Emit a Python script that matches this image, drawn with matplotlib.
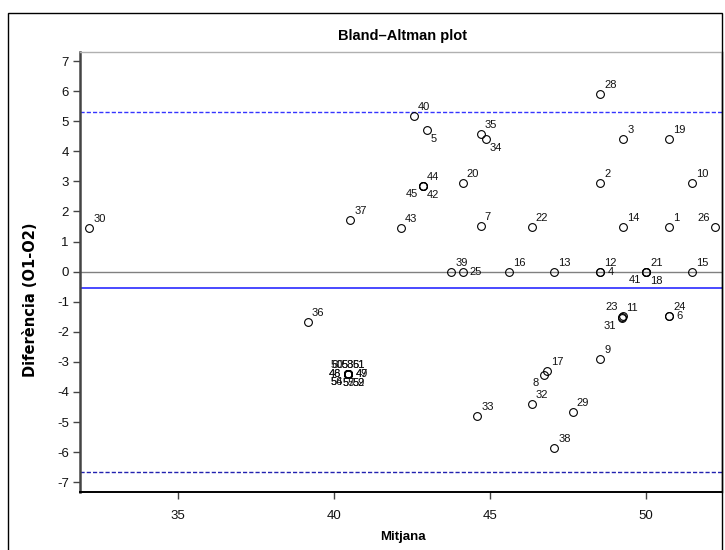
import matplotlib
matplotlib.use("Agg")
import matplotlib.pyplot as plt
from matplotlib.patches import Rectangle

# ---------------- data ----------------
point_ids = [30, 40, 5, 35, 34, 44, 45, 42, 20, 37, 43, 7, 22,
             28, 3, 19, 2, 10, 14, 1, 26,
             39, 25, 16, 13, 12, 4, 21, 41, 18, 15,
             36, 23, 11, 31, 24, 6, 9, 17, 8, 32, 33, 29, 38,
             46, 47, 48, 49, 50, 51, 52, 53, 54, 55, 56, 57, 58, 59, 60, 61]
mean_vals = [32.16, 42.57, 42.98, 44.70, 44.86, 42.86, 42.86, 42.86, 44.13, 40.52, 42.15, 44.70, 46.34,
             48.54, 49.27, 50.75, 48.54, 51.48, 49.27, 50.75, 52.22,
             43.76, 44.13, 45.60, 47.07, 48.54, 48.54, 50.01, 50.01, 50.01, 51.48,
             39.17, 49.27, 49.25, 49.22, 50.75, 50.75, 48.54, 46.83, 46.73, 46.34, 44.59, 47.66, 47.07,
             40.46, 40.46, 40.46, 40.46, 40.46, 40.46, 40.46, 40.46, 40.46, 40.46, 40.46, 40.46, 40.46, 40.46, 40.46, 40.46]
diff_vals = [1.44, 5.18, 4.70, 4.57, 4.42, 2.86, 2.86, 2.86, 2.96, 1.73, 1.44, 1.53, 1.49,
             5.90, 4.42, 4.42, 2.96, 2.96, 1.49, 1.49, 1.49,
             0.0, 0.0, 0.0, 0.0, 0.0, 0.0, 0.0, 0.0, 0.0, 0.0,
             -1.66, -1.47, -1.50, -1.54, -1.47, -1.47, -2.92, -3.32, -3.44, -4.40, -4.79, -4.68, -5.87,
             -3.41, -3.41, -3.41, -3.41, -3.41, -3.41, -3.41, -3.41, -3.41, -3.41, -3.41, -3.41, -3.41, -3.41, -3.41, -3.41]

mean_diff = -0.56
upper_loa = 5.30
lower_loa = -6.65

x_ticks = [35, 40, 45, 50]
y_ticks = [-7, -6, -5, -4, -3, -2, -1, 0, 1, 2, 3, 4, 5, 6, 7]

title_text = "Bland\u2013Altman plot"
x_label = "Mitjana"
y_label = "Difer\u00e8ncia (O1-O2)"

# label placement (style): default upper-right
label_pos = {5: 'lr', 34: 'lr', 42: 'lr', 45: 'll', 8: 'll', 31: 'll', 41: 'll',
             26: 'ul', 23: 'ul', 25: 'r', 4: 'r', 6: 'r', 18: 'lr',
             46: 'l', 48: 'l', 47: 'r', 49: 'r',
             50: 'ul', 60: 'ul', 53: 'u', 58: 'u', 51: 'ur', 61: 'ur',
             54: 'll', 56: 'll', 55: 'd', 57: 'd', 52: 'lr', 59: 'lr'}

# ---------------- figure ----------------
plt.rcParams['font.family'] = ['Liberation Sans', 'DejaVu Sans']
W, H = 725, 550
fig = plt.figure(figsize=(W / 100, H / 100), dpi=100)
fig.patch.set_facecolor('white')

# outer frame
fig.patches.append(Rectangle((8 / W, -0.05), (722 - 8) / W, (550 - 13) / H + 0.05,
                             transform=fig.transFigure, fill=False,
                             edgecolor='black', linewidth=1.0))

ax = fig.add_axes([80 / W, (550 - 491.5) / H, (722 - 80) / W, (491.5 - 51.7) / H])
ax.set_xlim(31.86, 52.44)
ax.set_ylim(-7.31, 7.31)

ax.axhline(0, color='#808080', linewidth=1.0, zorder=1)
ax.axhline(mean_diff, color='#2a2aff', linewidth=1.2, zorder=1)
ax.axhline(upper_loa, color='#3535ff', linewidth=1.0, linestyle=(0, (3, 1.5)), zorder=1)
ax.axhline(lower_loa, color='#2222b0', linewidth=1.0, linestyle=(0, (3, 1.5)), zorder=1)

ax.plot(mean_vals, diff_vals, linestyle='none', marker='o', markersize=5.6,
        markerfacecolor='none', markeredgecolor='black', markeredgewidth=0.8, zorder=3)

px = 0.72
offsets = {
    'ur': (4 * px, 9 * px, 'left'),
    'lr': (4 * px, -9 * px, 'left'),
    'll': (-5 * px, -8 * px, 'right'),
    'ul': (-5 * px, 9 * px, 'right'),
    'r': (7 * px, 0, 'left'),
    'l': (-7 * px, 0, 'right'),
    'u': (0, 9 * px, 'center'),
    'd': (0, -9 * px, 'center'),
}
for pid, mx, dy in zip(point_ids, mean_vals, diff_vals):
    ox, oy, ha = offsets[label_pos.get(pid, 'ur')]
    ax.annotate(str(pid), (mx, dy), xytext=(ox, oy), textcoords='offset points',
                ha=ha, va='center', fontsize=8, color='#111111', zorder=4)

ax.set_xticks(x_ticks)
ax.set_yticks(y_ticks)
ax.set_xticklabels([str(v) for v in x_ticks])
ax.set_yticklabels([str(v) for v in y_ticks])
ax.tick_params(axis='both', direction='out', length=5, width=1.0, color='#444444',
               labelsize=9.5, labelcolor='#111111')
ax.tick_params(axis='x', pad=8)
ax.tick_params(axis='y', pad=3)

ax.spines['left'].set_color('#444444')
ax.spines['left'].set_linewidth(1.8)
ax.spines['bottom'].set_color('black')
ax.spines['bottom'].set_linewidth(1.4)
ax.spines['top'].set_color('#b0b0b0')
ax.spines['top'].set_linewidth(1.0)
ax.spines['right'].set_color('black')
ax.spines['right'].set_linewidth(1.0)

fig.text(402 / W, 1 - 36 / H, title_text, ha='center', va='center',
         fontsize=10.5, fontweight='bold')
fig.text(403 / W, 1 - 537 / H, x_label, ha='center', va='center',
         fontsize=9.5, fontweight='bold')
fig.text(31 / W, 1 - 300 / H, y_label, ha='center', va='center', rotation=90,
         fontsize=10.5, fontweight='bold', family=['DejaVu Sans'])

fig.savefig('out.png', dpi=100, facecolor='white')
